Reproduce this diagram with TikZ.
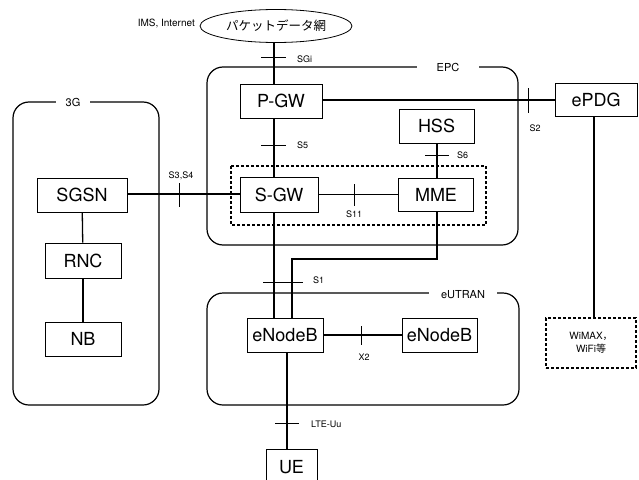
\documentclass[tikz,border=0pt]{standalone}
\usepackage{fontspec}
\setmainfont{TeX Gyre Heros}
\newfontfamily\jp{Noto Sans CJK JP}
\usetikzlibrary{calc,shapes.geometric}
\begin{document}
\begin{tikzpicture}[x=1pt,y=-1pt,
  box/.style={draw,line width=0.8pt,fill=white,inner sep=0pt,font=\fontsize{18}{18}\selectfont},
  conn/.style={line width=1.3pt},
  tick/.style={line width=0.8pt},
  lbl/.style={font=\fontsize{9}{9}\selectfont,inner sep=0pt},
  region/.style={draw,line width=1.2pt,rounded corners=16pt},
  rlbl/.style={fill=white,font=\fontsize{11}{11}\selectfont,inner ysep=2pt}]
\useasboundingbox (0,0) rectangle (639,479);
% regions
\draw[region] (207,67) rectangle (518,245);
\draw[region] (13,102) rectangle (159,405);
\draw[region] (207,293) rectangle (519,405);
\node[rlbl,inner xsep=20pt] (epcl) at (448,67) {EPC};
\node[rlbl,inner xsep=10pt] (g3l) at (73,102) {3G};
\node[rlbl,inner xsep=12pt] (eul) at (463,295) {eUTRAN};
\draw[line width=1.1pt,dashed,dash pattern=on 3pt off 2pt] (231,166) rectangle (486,225);
% nodes
\node[draw,ellipse,line width=0.8pt,minimum width=152,minimum height=33,inner sep=0pt,font=\jp\fontsize{12.5}{12.5}\selectfont] (net) at (276,26) {パケットデータ網};
\node[lbl,font=\fontsize{10}{10}\selectfont,anchor=east] (ims) at (195,24) {IMS, Internet};
\node[box,minimum width=82,minimum height=34] (pgw) at (281,101) {P-GW};
\node[box,minimum width=75,minimum height=34] (hss) at (436.5,126) {HSS};
\node[box,minimum width=78,minimum height=35] (sgw) at (279,194.5) {S-GW};
\node[box,minimum width=75,minimum height=33] (mme) at (436,194.5) {MME};
\node[box,minimum width=90,minimum height=34] (sgsn) at (82,195) {SGSN};
\node[box,minimum width=76,minimum height=35] (rnc) at (83,260.5) {RNC};
\node[box,minimum width=76,minimum height=34] (nb) at (83,339) {NB};
\node[box,minimum width=82,minimum height=33] (epdg) at (596,99.5) {ePDG};
\node[draw,line width=1.1pt,dashed,dash pattern=on 3pt off 2pt,minimum width=90,minimum height=50,inner sep=0pt,align=center,font=\fontsize{10}{13}\selectfont] (wimax) at (591,343) {WiMAX{\jp ，}\\WiFi{\jp 等}};
\node[box,minimum width=76,minimum height=34] (enba) at (285,335) {eNodeB};
\node[box,minimum width=75,minimum height=34] (enbb) at (439.5,335) {eNodeB};
\node[box,minimum width=51,minimum height=36,anchor=north] (ue) at (291.5,449) {UE};
% helper coordinates
\coordinate (cx) at (274,0);
\coordinate (mx) at (437,0);
\coordinate (ux) at (287,0);
\coordinate (bend1) at (437,259);
\coordinate (bend2) at (292,259);
% connectors
\draw[conn] (net.south -| cx) -- (pgw.north -| cx);
\draw[conn] (pgw.south -| cx) -- (sgw.north -| cx);
\draw[conn] (pgw.east |- 0,100) -- (epdg.west |- 0,100);
\draw[conn] (hss.south -| mx) -- (mme.north -| mx);
\draw[conn] (sgsn.east |- 0,194) -- (sgw.west |- 0,194);
\draw[conn] (sgw.east) -- (mme.west);
\draw[conn] (sgsn) -- (rnc);
\draw[conn] (rnc) -- (nb);
\draw[conn] (sgw.south -| cx) -- (enba.north -| cx);
\draw[conn] (mme.south -| mx) -- (bend1) -- (bend2) -- (enba.north -| bend2);
\draw[conn] (enba.east) -- (enbb.west);
\draw[conn] (enba.south -| ux) -- (ue.north -| ux);
\draw[conn] (epdg.south -| 594,0) -- (wimax.north -| 594,0);
% ticks
\draw[tick] (261,57) -- (286,57);
\draw[tick] (261,145) -- (286,145);
\draw[tick] (425,155) -- (449,155);
\draw[tick] (354,184) -- (354,206);
\draw[tick] (179,183) -- (179,207);
\draw[tick] (528,88) -- (528,113);
\draw[tick] (263,282) -- (303,282);
\draw[tick] (361,326) -- (361,345);
\draw[tick] (275,423) -- (299,423);
% labels
\node[lbl,anchor=west] (sgil) at (297,59) {SGi};
\node[lbl,anchor=west] (s5l) at (297,145) {S5};
\node[lbl,anchor=west] (s6l) at (457,155) {S6};
\node[lbl] (s11l) at (354,214) {S11};
\node[lbl] (s34l) at (181,176) {S3,S4};
\node[lbl] (s2l) at (535,128) {S2};
\node[lbl,anchor=west] (s1l) at (313,280) {S1};
\node[lbl] (x2l) at (364,357) {X2};
\node[lbl,anchor=west] (ltel) at (311,424) {LTE-Uu};
\end{tikzpicture}
\end{document}
